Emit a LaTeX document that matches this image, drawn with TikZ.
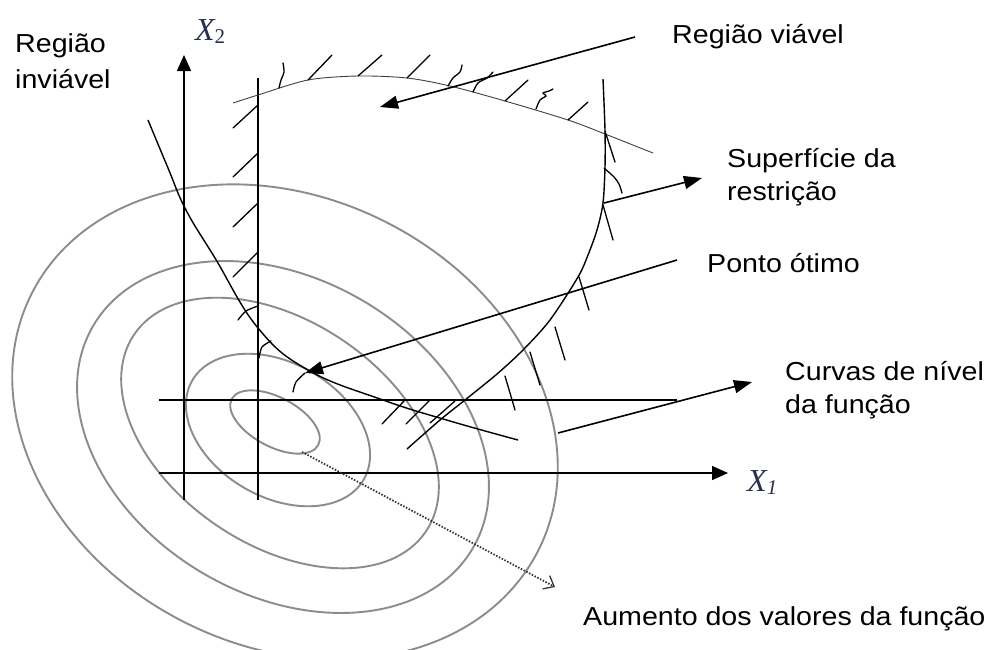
\documentclass[tikz,border=0pt]{standalone}
\usepackage{fontspec}
\setmainfont{Liberation Sans}[FakeStretch=1.1]
\newfontfamily\xfont{Liberation Serif}
\usetikzlibrary{arrows.meta}
\definecolor{ellcol}{RGB}{140,140,140}
\definecolor{xcol}{RGB}{40,48,75}
\begin{document}
\begin{tikzpicture}[x=1pt,y=-1pt,
  ell/.style={draw=ellcol,line width=1.9pt},
  cons/.style={draw=black,line width=1.4pt},
  thincons/.style={draw=black!75,line width=0.9pt},
  hatch/.style={draw=black,line width=1.3pt,line cap=round},
  axis/.style={draw=black,line width=1.5pt,-{Triangle[length=16pt,width=14pt]}},
  callout/.style={draw=black,line width=1.6pt,-{Triangle[length=18pt,width=13pt]}},
  dotarrow/.style={draw=black!80,line width=1.8pt,dash pattern=on 1.5pt off 1.6pt,
    -{Straight Barb[length=9pt,width=15pt,line width=1.3pt]}},
  lab/.style={font=\fontsize{26}{33}\selectfont,inner sep=0pt},
  axlab/.style={font=\xfont\itshape\fontsize{32}{32}\selectfont,text=xcol,inner sep=0pt}
]
\fill[white] (0,0) rectangle (988,649);
\useasboundingbox (0,0) rectangle (988,649);

% level curves
\draw[ell,shift={(275,422)},rotate=-28] (0,0) ellipse [x radius=49pt,y radius=24.6pt];
\draw[ell,shift={(278,430)},rotate=-30] (0,0) ellipse [x radius=99pt,y radius=67pt];
\draw[ell,shift={(280,433)},rotate=-34] (0,0) ellipse [x radius=176pt,y radius=112pt];
\draw[ell,shift={(283,437)},rotate=-30.4] (0,0) ellipse [x radius=220pt,y radius=158pt];
\draw[ell,shift={(285,422)},rotate=-27] (0,0) ellipse [x radius=284pt,y radius=224pt];

% axes
\coordinate (o2) at (184,500); \coordinate (x2tip) at (184,55);
\coordinate (o1) at (159,473); \coordinate (x1tip) at (728,473);
\draw[axis] (o2) -- (x2tip);
\draw[axis] (o1) -- (x1tip);
\node[axlab,anchor=base west] (x2) at (195,40) {X{\fontsize{21}{21}\selectfont\upshape\raisebox{-3pt}{2}}};
\node[axlab,anchor=base west] (x1) at (747,491) {X{\fontsize{21}{21}\selectfont\raisebox{-3pt}{1}}};

% horizontal and vertical constraints
\coordinate (hL) at (159,400); \coordinate (hR) at (677,400);
\draw[cons] (hL) -- (hR);
\coordinate (vTop) at (258,78); \coordinate (vBot) at (258,500);
\draw[cons] (vTop) -- (vBot);
\draw[hatch] (258,105) -- (233,128);
\draw[hatch] (258,153) -- (233,177);
\draw[hatch] (258,203) -- (233,227);
\draw[hatch] (258,252) -- (233,277);
\draw[hatch] plot[smooth] coordinates {(258,306) (246,311) (238,320)};
\draw[hatch] plot[smooth] coordinates {(259,358) (262,347) (271,341)};
\draw[hatch] plot[smooth] coordinates {(293,392) (296,382) (305,373)};

% hyperbola (infeasible boundary)
\draw[cons] plot[smooth,tension=0.7] coordinates {(148,120) (168,168) (186,210) (215,258) (258,328) (308,370) (383,400) (450,421) (518,440)};
\draw[hatch] (382,424) -- (405,400);
\draw[hatch] (406,424) -- (430,400);
\draw[hatch] (430,423) -- (455,401);

% top constraint
\draw[thincons] plot[smooth] coordinates {(233,103) (258,95) (308,80) (358,76) (407,78) (450,86) (505,101) (568,120) (605,134) (653,153)};
\draw[hatch] plot[smooth] coordinates {(279,88) (281,80) (284,72) (283,63)};
\draw[hatch] (308,80) -- (332,55);
\draw[hatch] (358,76) -- (382,55);
\draw[hatch] (407,78) -- (430,55);
\draw[hatch] plot[smooth] coordinates {(448,86) (453,78) (460,72) (462,65)};
\draw[hatch] plot[smooth] coordinates {(473,92) (478,83) (487,78) (493,72)};
\draw[hatch] (505,101) -- (528,80);
\draw[hatch] plot[smooth] coordinates {(536,109) (540,100) (546,96) (543,93) (549,91) (553,89)};
\draw[hatch] (568,120) -- (588,102);

% right constraint surface
\draw[cons] plot[smooth] coordinates {(603,79) (605,130) (605,167) (603,203) (597,230) (588,255) (578,277) (550,320) (523,350) (497,374) (465,400) (440,420) (407,449)};
\draw[hatch] (605,131) -- (615,162);
\draw[hatch] plot[smooth] coordinates {(604,168) (614,177) (619,184) (622,193)};
\draw[hatch] (603,205) -- (613,240);
\draw[hatch] (579,277) -- (589,310);
\draw[hatch] (555,327) -- (565,360);
\draw[hatch] (530,352) -- (540,385);
\draw[hatch] (505,376) -- (515,410);

% labels
\node[lab,anchor=base west] (inviavel) at (15,52) {\begin{tabular}[t]{@{}l@{}}Região\\[3pt]inviável\end{tabular}};
\node[lab,anchor=base west] (viavel) at (672,43) {Região viável};
\node[lab,anchor=base west] (superf) at (727,167) {\begin{tabular}[t]{@{}l@{}}Superfície da\\restrição\end{tabular}};
\node[lab,anchor=base west] (otimo) at (707,272) {Ponto ótimo};
\node[lab,anchor=base west] (curvas) at (785,380) {\begin{tabular}[t]{@{}l@{}}Curvas de nível\\da função\end{tabular}};
\node[lab,anchor=base west] (aumento) at (583,625) {Aumento dos valores da função};

% callouts
\coordinate (vS) at (635,37); \coordinate (vT) at (380,107);
\coordinate (sS) at (604,203); \coordinate (sT) at (702,178);
\coordinate (pS) at (677,260); \coordinate (pT) at (305,373);
\coordinate (cS) at (558,433); \coordinate (cT) at (752,382);
\coordinate (aS) at (302,452); \coordinate (aT) at (555,587);
\draw[callout] (vS) -- (vT);
\draw[callout] (sS) -- (sT);
\draw[callout] (pS) -- (pT);
\draw[callout] (cS) -- (cT);
\draw[dotarrow] (aS) -- (aT);
\end{tikzpicture}
\end{document}
